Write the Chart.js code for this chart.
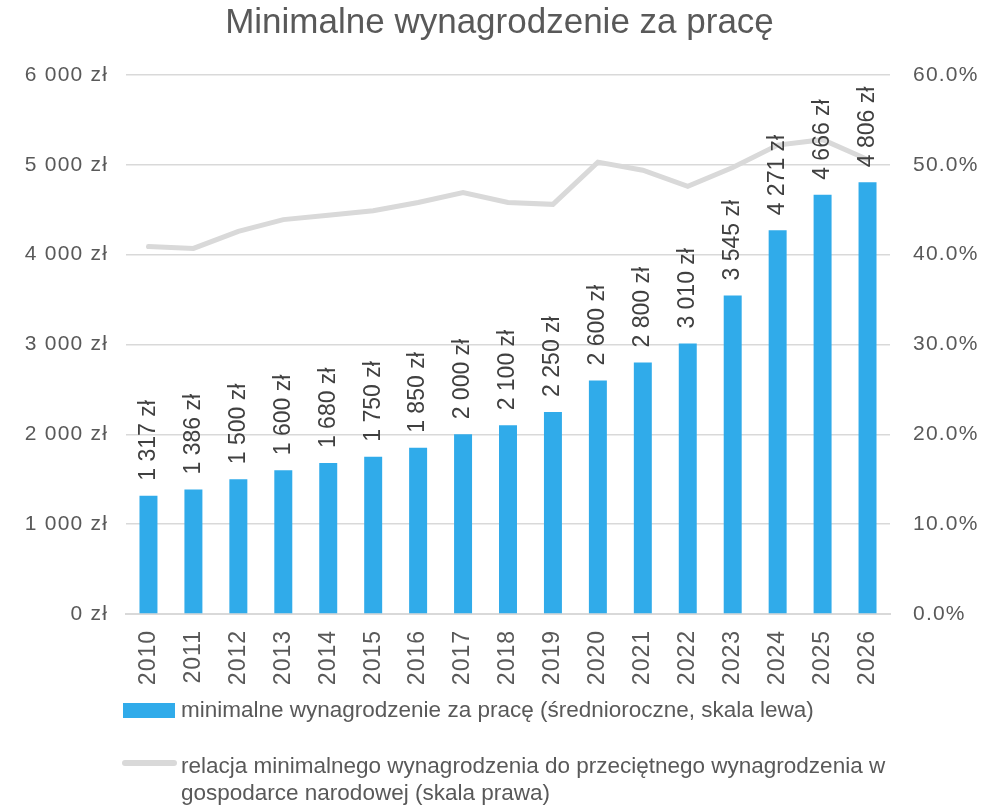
<!DOCTYPE html>
<html>
<head>
<meta charset="utf-8">
<script src="https://cdn.jsdelivr.net/npm/chart.js@4/dist/chart.umd.min.js"></script>
<style>
  html, body { margin: 0; padding: 0; background: #fff; }
  #wrap { position: relative; width: 999px; height: 806px; }
  #title {
    position: absolute; left: 0; top: 1px; width: 999px; text-align: center;
    font-family: "Liberation Sans", Arial, sans-serif;
    font-size: 35px; color: #595959;
  }
  .leg {
    position: absolute; left: 181px;
    font-family: "Liberation Sans", Arial, sans-serif;
    font-size: 22.5px; color: #595959; line-height: 27px; white-space: nowrap;
  }
  .swatch { position: absolute; }
</style>
</head>
<body>
<div id="wrap">
  <canvas id="chart" width="999" height="806"></canvas>
  <div id="title">Minimalne wynagrodzenie za pracę</div>
  <div class="swatch" style="left:123px; top:703px; width:52px; height:15px; background:#30abea;"></div>
  <div class="leg" style="top:696px;">minimalne wynagrodzenie za pracę (średnioroczne, skala lewa)</div>
  <div class="swatch" style="left:122px; top:760px; width:55px; height:6px; border-radius:3px; background:#d9d9d9;"></div>
  <div class="leg" style="top:752px;">relacja minimalnego wynagrodzenia do przeciętnego wynagrodzenia w<br>gospodarce narodowej (skala prawa)</div>
</div>
<script>
// Minimalne wynagrodzenie - chart data
const years = ['2010', '2011', '2012', '2013', '2014', '2015', '2016', '2017', '2018',
               '2019', '2020', '2021', '2022', '2023', '2024', '2025', '2026'];
const minWage = [1317, 1386, 1500, 1600, 1680, 1750, 1850, 2000, 2100,
                 2250, 2600, 2800, 3010, 3545, 4271, 4666, 4806];
// relation to average wage, percent
const wageRatio = [40.9, 40.7, 42.6, 43.9, 44.4, 44.9, 45.8, 46.9, 45.8,
                   45.6, 50.3, 49.4, 47.6, 49.7, 52.2, 52.8, 50.6];

const textColor = '#595959';
const gridColor = '#d9d9d9';

function formatZl(v) {
    return String(v).replace(/\B(?=(\d{3})+(?!\d))/g, ' ') + ' zł';
}

// tick labels look slightly spaced out in the original
const spacingPlugin = {
    id: 'spacing',
    beforeDraw(chart) {
        chart.ctx.letterSpacing = '1.2px';
    }
};

// year labels (rotated -90) and value labels above bars
const labelsPlugin = {
    id: 'labels',
    afterDatasetsDraw(chart) {
        const ctx = chart.ctx;
        const meta = chart.getDatasetMeta(1);
        ctx.save();
        ctx.letterSpacing = '0px';
        ctx.fillStyle = '#404040';
        ctx.font = '23px "Liberation Sans", Arial, sans-serif';
        ctx.textAlign = 'left';
        ctx.textBaseline = 'middle';
        meta.data.forEach((bar, i) => {
            ctx.save();
            ctx.translate(bar.x, bar.y - 15);
            ctx.rotate(-Math.PI / 2);
            ctx.fillText(formatZl(minWage[i]), 0, 0);
            ctx.restore();
        });
        ctx.restore();
    },
    afterDraw(chart) {
        const ctx = chart.ctx;
        const xScale = chart.scales.x;
        ctx.save();
        ctx.letterSpacing = '1px';
        ctx.fillStyle = textColor;
        ctx.font = '23px "Liberation Sans", Arial, sans-serif';
        ctx.textAlign = 'right';
        ctx.textBaseline = 'middle';
        years.forEach((y, i) => {
            ctx.save();
            ctx.translate(xScale.getPixelForTick(i), chart.chartArea.bottom + 16);
            ctx.rotate(-Math.PI / 2);
            ctx.fillText(y, 0, 0);
            ctx.restore();
        });
        ctx.restore();
    }
};

new Chart(document.getElementById('chart'), {
    data: {
        labels: years,
        datasets: [{
            type: 'line',
            label: 'relacja minimalnego wynagrodzenia do przeciętnego wynagrodzenia w gospodarce narodowej (skala prawa)',
            data: wageRatio,
            yAxisID: 'y1',
            borderColor: gridColor,
            borderWidth: 5,
            pointRadius: 0,
            tension: 0,
            borderCapStyle: 'round',
            order: 0
        }, {
            type: 'bar',
            label: 'minimalne wynagrodzenie za pracę (średnioroczne, skala lewa)',
            data: minWage,
            yAxisID: 'y',
            backgroundColor: '#30abea',
            categoryPercentage: 1,
            barPercentage: 0.4,
            order: 1
        }]
    },
    options: {
        responsive: false,
        animation: false,
        layout: { padding: { top: 75, bottom: 112, left: 0, right: 0 } },
        plugins: {
            legend: { display: false },
            title: { display: false },
            tooltip: { enabled: false }
        },
        scales: {
            x: {
                grid: { display: false },
                border: { color: gridColor, width: 2 },
                ticks: { display: false },
                afterFit(scale) { scale.height = 80; }
            },
            y: {
                position: 'left',
                min: 0,
                max: 6000,
                ticks: {
                    stepSize: 1000,
                    padding: 18,
                    color: textColor,
                    font: { family: '"Liberation Sans", Arial, sans-serif', size: 21 },
                    callback: v => formatZl(v)
                },
                grid: { color: gridColor, lineWidth: 1.5, drawTicks: false },
                border: { display: false },
                afterFit(scale) { scale.width = 126; }
            },
            y1: {
                position: 'right',
                min: 0,
                max: 60,
                ticks: {
                    stepSize: 10,
                    padding: 23,
                    color: textColor,
                    font: { family: '"Liberation Sans", Arial, sans-serif', size: 21 },
                    callback: v => v.toFixed(1) + '%'
                },
                grid: { display: false, drawTicks: false },
                border: { display: false },
                afterFit(scale) { scale.width = 109; }
            }
        }
    },
    plugins: [spacingPlugin, labelsPlugin]
});
</script>
</body>
</html>
